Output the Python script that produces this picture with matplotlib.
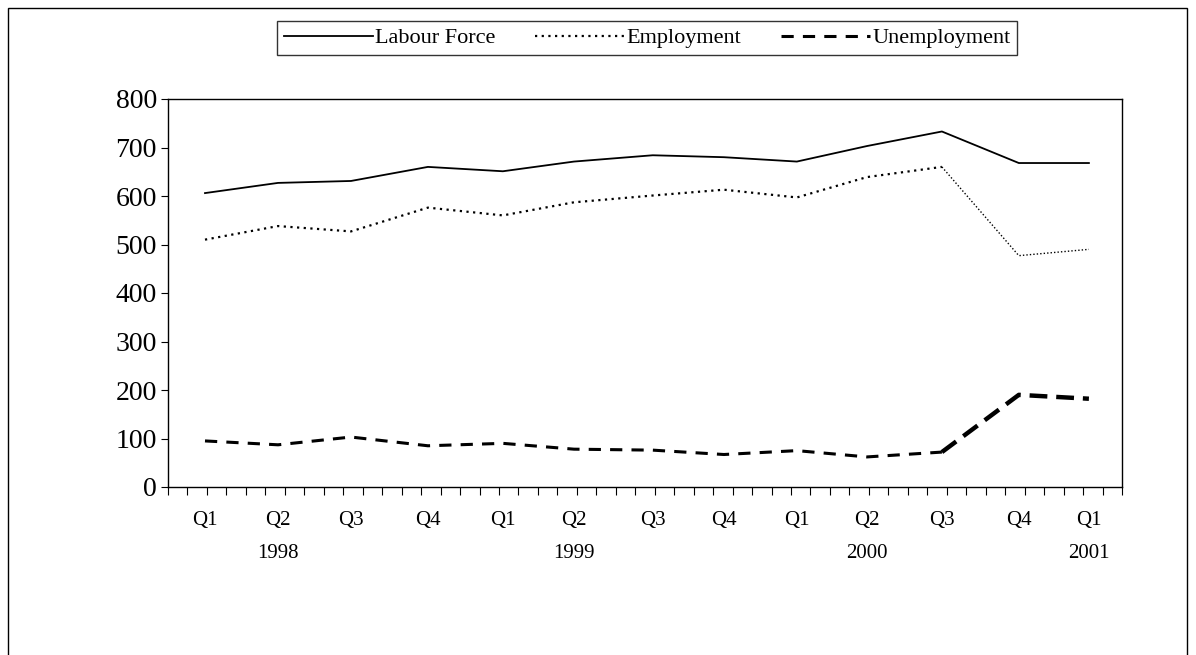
import matplotlib
matplotlib.use("Agg")
import matplotlib.pyplot as plt
from matplotlib.patches import Rectangle

quarters = ["Q1","Q2","Q3","Q4","Q1","Q2","Q3","Q4","Q1","Q2","Q3","Q4","Q1"]
years = {1:"1998", 5:"1999", 9:"2000", 12:"2001"}
x_pos = [1.9, 5.65, 9.4, 13.35, 17.2, 20.85, 24.9, 28.55, 32.3, 35.9, 39.75, 43.7, 47.3]
labour = [606, 627, 631, 660, 651, 671, 684, 680, 671, 703, 733, 668, 668]
employment = [510, 538, 527, 576, 560, 587, 601, 613, 597, 639, 660, 477, 490]
unemployment = [95, 87, 103, 85, 90, 78, 76, 67, 75, 62, 72, 190, 182]

plt.rcParams['font.family'] = ['Liberation Serif', 'DejaVu Serif']
fig = plt.figure(figsize=(11.96, 6.55), dpi=100)
fig.patches.append(Rectangle((8/1196, -0.1), 1179/1196, 1.1 - 8/655, transform=fig.transFigure,
                             fill=False, edgecolor='black', linewidth=1))
ax = fig.add_axes([168/1196, 1-487/655, (1122-168)/1196, (487-99)/655])

ax.plot(x_pos, labour, color='black', lw=1.3, label='Labour Force')
ax.plot(x_pos[:11], employment[:11], color='black', lw=1.6, ls=(0, (1, 2)), label='Employment')
ax.plot(x_pos[10:], employment[10:], color='black', lw=1.0, ls=(0, (1, 1.5)))
ax.plot(x_pos[:11], unemployment[:11], color='black', lw=2.2, ls=(0, (4, 3)), label='Unemployment')
ax.plot(x_pos[10:], unemployment[10:], color='black', lw=3.2, ls=(0, (4, 2)))

ax.set_xlim(0, 49)
ax.set_ylim(0, 800)
ax.set_yticks(range(0, 801, 100))
ax.tick_params(axis='y', labelsize=20, length=5, direction='out', pad=3)
ax.set_xticks(range(0, 50))
ax.set_xticklabels([])
ax.tick_params(axis='x', length=6, direction='out')
for i, (x, q) in enumerate(zip(x_pos, quarters)):
    ax.annotate(q, (x, 0), xytext=(0, -17), textcoords='offset points', ha='center', va='top', fontsize=15)
    if i in years:
        ax.annotate(years[i], (x, 0), xytext=(0, -41), textcoords='offset points', ha='center', va='top', fontsize=15)
for s in ax.spines.values():
    s.set_linewidth(1)

fig.legend(loc='center', bbox_to_anchor=(647/1196, 1-38/655), ncol=3, frameon=True, fancybox=False,
           edgecolor='black', fontsize=16, handlelength=4, handletextpad=0.1, columnspacing=1.8,
           borderpad=0.3, borderaxespad=0)
fig.savefig("out.png", dpi=100)
